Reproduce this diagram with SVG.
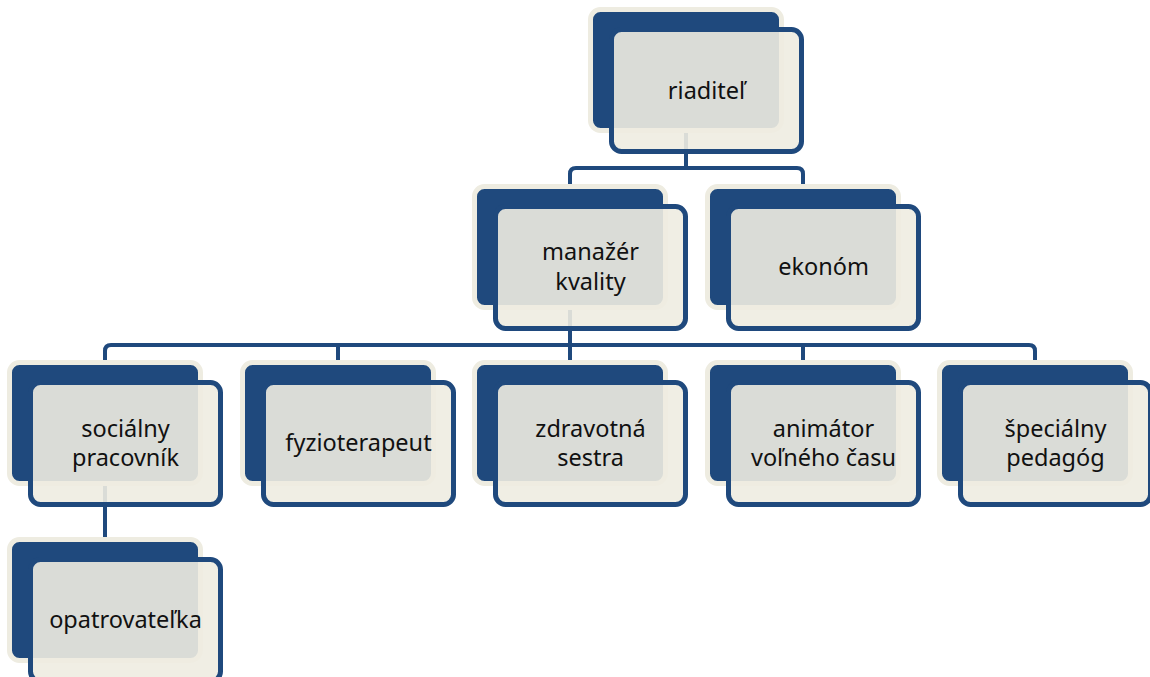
<svg xmlns="http://www.w3.org/2000/svg" width="1150" height="677" viewBox="0 0 1150 677">
<style>
.bk{fill:#1f497d;stroke:#eeece1;stroke-width:5}
.fr{fill:#eeece1;fill-opacity:.9;stroke:#1f497d;stroke-width:5}
.cn{fill:none;stroke:#1f497d;stroke-width:4}
text{font-family:"Noto Sans","Open Sans",sans-serif;font-size:23.5px;fill:#111;text-anchor:middle}
</style>
<rect width="1150" height="677" fill="#fff"/>
<g id="connectors">
<path class="cn" d="M686,120 V168 M570,186 V174 Q570,168 576,168 H797 Q803,168 803,174 V186"/>
<path class="cn" d="M570,300 V362 M105,362 V351 Q105,345 111,345 H1029 Q1035,345 1035,351 V362 M338,345 V362 M803,345 V362"/>
<path class="cn" d="M105,470 V538"/>
</g>
<g id="n-riaditel">
<rect class="bk" x="590.5" y="9.5" width="191" height="121" rx="10"/>
<rect class="fr" x="611.5" y="29.5" width="190" height="122" rx="10"/>
<text x="706.5" y="99">riaditeľ</text>
</g>
<g id="n-manazer">
<rect class="bk" x="474.5" y="186.5" width="191" height="121" rx="10"/>
<rect class="fr" x="495.5" y="206.5" width="190" height="122" rx="10"/>
<text x="590.5" y="260">manažér</text>
<text x="590.5" y="290">kvality</text>
</g>
<g id="n-ekonom">
<rect class="bk" x="707.5" y="186.5" width="191" height="121" rx="10"/>
<rect class="fr" x="728.5" y="206.5" width="190" height="122" rx="10"/>
<text x="823.5" y="275">ekonóm</text>
</g>
<g id="n-socialny">
<rect class="bk" x="9.5" y="362.5" width="191" height="121" rx="10"/>
<rect class="fr" x="30.5" y="382.5" width="190" height="122" rx="10"/>
<text x="125.5" y="437">sociálny</text>
<text x="125.5" y="466">pracovník</text>
</g>
<g id="n-fyzio">
<rect class="bk" x="242.5" y="362.5" width="191" height="121" rx="10"/>
<rect class="fr" x="263.5" y="382.5" width="190" height="122" rx="10"/>
<text x="358.5" y="451">fyzioterapeut</text>
</g>
<g id="n-zdravotna">
<rect class="bk" x="474.5" y="362.5" width="191" height="121" rx="10"/>
<rect class="fr" x="495.5" y="382.5" width="190" height="122" rx="10"/>
<text x="590.5" y="437">zdravotná</text>
<text x="590.5" y="466">sestra</text>
</g>
<g id="n-animator">
<rect class="bk" x="707.5" y="362.5" width="191" height="121" rx="10"/>
<rect class="fr" x="728.5" y="382.5" width="190" height="122" rx="10"/>
<text x="823.5" y="437">animátor</text>
<text x="823.5" y="466">voľného času</text>
</g>
<g id="n-specialny">
<rect class="bk" x="939.5" y="362.5" width="191" height="121" rx="10"/>
<rect class="fr" x="960.5" y="382.5" width="190" height="122" rx="10"/>
<text x="1055.5" y="437">špeciálny</text>
<text x="1055.5" y="466">pedagóg</text>
</g>
<g id="n-opatrovatelka">
<rect class="bk" x="9.5" y="539.5" width="191" height="121" rx="10"/>
<rect class="fr" x="30.5" y="559.5" width="190" height="122" rx="10"/>
<text x="125.5" y="628">opatrovateľka</text>
</g>
</svg>
